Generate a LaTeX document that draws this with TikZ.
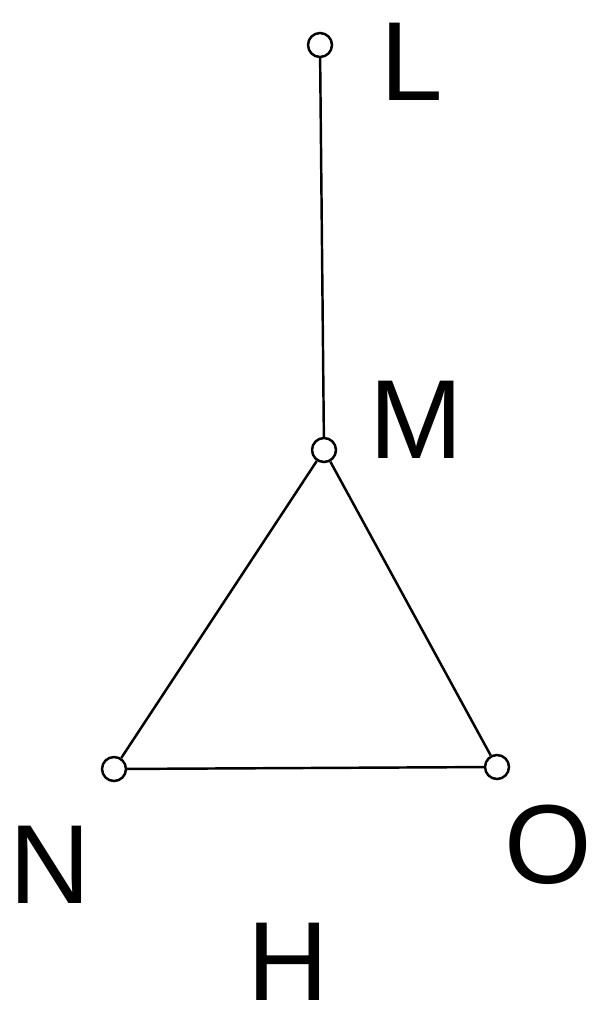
\documentclass[tikz,border=0pt]{standalone}
\usepackage{fontspec}
\setmainfont{Liberation Sans}
\begin{document}
\begin{tikzpicture}[x=0.02cm,y=-0.02cm,
  vert/.style={draw,line width=1.4pt,circle,minimum size=0.48cm,inner sep=0pt},
  edge/.style={line width=1.4pt},
  lab/.style={font=\fontsize{64}{64}\selectfont,inner sep=0pt,anchor=center}]
\useasboundingbox (0,0) rectangle (599,1024);
\node[vert] (L) at (320,45) {};
\node[vert] (M) at (324,450) {};
\node[vert] (N) at (114,769) {};
\node[vert] (O) at (497,767) {};
\draw[edge] (L) -- (M);
\draw[edge] (M) -- (N);
\draw[edge] (M) -- (O);
\draw[edge] (N) -- (O);
\node[lab] (tL) at (412,62) {L};
\node[lab] (tM) at (416,420) {M};
\node[lab] (tN) at (50,865) {N};
\node[lab] (tO) at (548,845) {O};
\node[lab] (tH) at (288,962) {H};
\end{tikzpicture}
\end{document}
